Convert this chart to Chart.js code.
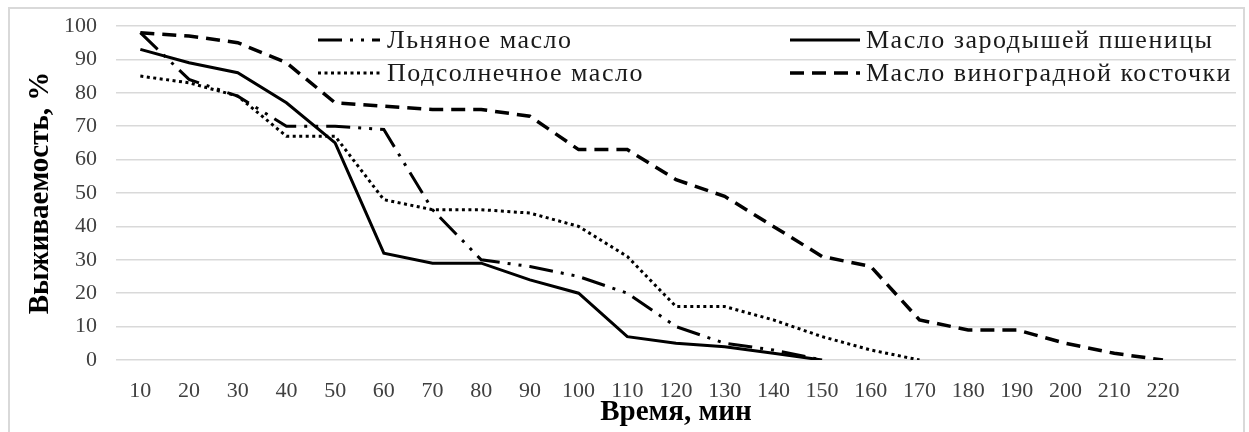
<!DOCTYPE html>
<html>
<head>
<meta charset="utf-8">
<script src="https://cdn.jsdelivr.net/npm/chart.js@4"></script>
<style>
  body { margin: 0; background: #fff; }
  #frame { position: absolute; left: 8px; top: 7px; width: 1237px; height: 440px; border: 2px solid #d9d9d9; box-sizing: border-box; }
  #wrap { position: absolute; left: 0; top: 0; width: 1249px; height: 432px; }
</style>
</head>
<body>
<div id="frame"></div>
<div id="wrap"><canvas id="survivalChart" width="1249" height="432"></canvas></div>
<script>
// time, min (last category left empty like in the source sheet)
const timeLabels = ['10', '20', '30', '40', '50', '60', '70', '80', '90', '100', '110',
    '120', '130', '140', '150', '160', '170', '180', '190', '200', '210', '220', ''];
const yTicks = [0, 10, 20, 30, 40, 50, 60, 70, 80, 90, 100];

const linseedOil = [98, 84, 79, 70, 70, 69, 45, 30, 28, 25, 20, 10, 5, 3, 0];
const wheatGermOil = [93, 89, 86, 77, 65, 32, 29, 29, 24, 20, 7, 5, 4, 2, 0];
const sunflowerOil = [85, 83, 79, 67, 67, 48, 45, 45, 44, 40, 31, 16, 16, 12, 7, 3, 0];
const grapeSeedOil = [98, 97, 95, 89, 77, 76, 75, 75, 73, 63, 63, 54, 49, 40, 31, 28, 12, 9, 9, 5, 2, 0];

const serif = '"Liberation Serif", "Times New Roman", serif';

// legend drawn inside the plot, two columns like the original
const insideLegend = {
    id: 'insideLegend',
    afterDatasetsDraw(chart) {
        const c = chart.ctx;
        const lineFrom = [318, 790], lineTo = [380, 860], textX = [387, 866];
        const rowY = [40, 73];
        chart.data.datasets.forEach((ds, i) => {
            const col = i % 2, row = Math.floor(i / 2);
            c.save();
            c.strokeStyle = ds.borderColor;
            c.lineWidth = ds.borderWidth;
            c.setLineDash(ds.borderDash || []);
            c.beginPath();
            c.moveTo(lineFrom[col], rowY[row]);
            c.lineTo(lineTo[col], rowY[row]);
            c.stroke();
            c.setLineDash([]);
            c.fillStyle = '#1a1a1a';
            c.font = '26px ' + serif;
            c.letterSpacing = '1.5px';
            c.textBaseline = 'middle';
            c.fillText(ds.label, textX[col], rowY[row] + 1);
            c.restore();
        });
    }
};

const ctx = document.getElementById('survivalChart');
new Chart(ctx, {
    type: 'line',
    data: {
        labels: timeLabels,
        datasets: [{
            label: 'Льняное масло',
            data: linseedOil,
            borderColor: '#000',
            borderWidth: 3,
            borderDash: [24, 8, 3, 8, 3, 8]
        }, {
            label: 'Масло зародышей пшеницы',
            data: wheatGermOil,
            borderColor: '#000',
            borderWidth: 3
        }, {
            label: 'Подсолнечное масло',
            data: sunflowerOil,
            borderColor: '#000',
            borderWidth: 3,
            borderDash: [3, 3.5]
        }, {
            label: 'Масло виноградной косточки',
            data: grapeSeedOil,
            borderColor: '#000',
            borderWidth: 3.5,
            borderDash: [14, 8]
        }]
    },
    options: {
        responsive: false,
        animation: false,
        elements: { point: { radius: 0 }, line: { tension: 0 } },
        layout: { padding: { top: 26, right: 13, left: 0, bottom: 0 } },
        plugins: { legend: { display: false }, tooltip: { enabled: false } },
        scales: {
            x: {
                offset: true,
                afterFit: s => { s.height = 72; },
                grid: { display: false, drawTicks: false },
                border: { display: false },
                ticks: { color: '#404040', font: { family: serif, size: 22 }, padding: 18, maxRotation: 0, autoSkip: false },
                title: { display: true, text: 'Время, мин', color: '#000', font: { family: serif, size: 29, weight: 'bold' }, padding: { top: 0, bottom: 2 } }
            },
            y: {
                min: 0,
                max: 100,
                afterFit: s => { s.width = 116; s.paddingTop = 0; s.paddingBottom = 0; },
                afterBuildTicks: axis => { axis.ticks = yTicks.map(v => ({ value: v })); },
                grid: { color: '#d9d9d9', lineWidth: 1.5, drawTicks: false },
                border: { display: false },
                ticks: { color: '#404040', font: { family: serif, size: 22 }, padding: 19 },
                title: { display: true, text: 'Выживаемость, %', color: '#000', font: { family: serif, size: 29, weight: 'bold' }, padding: { top: 23, bottom: 0 } }
            }
        }
    },
    plugins: [insideLegend]
});
</script>
</body>
</html>
